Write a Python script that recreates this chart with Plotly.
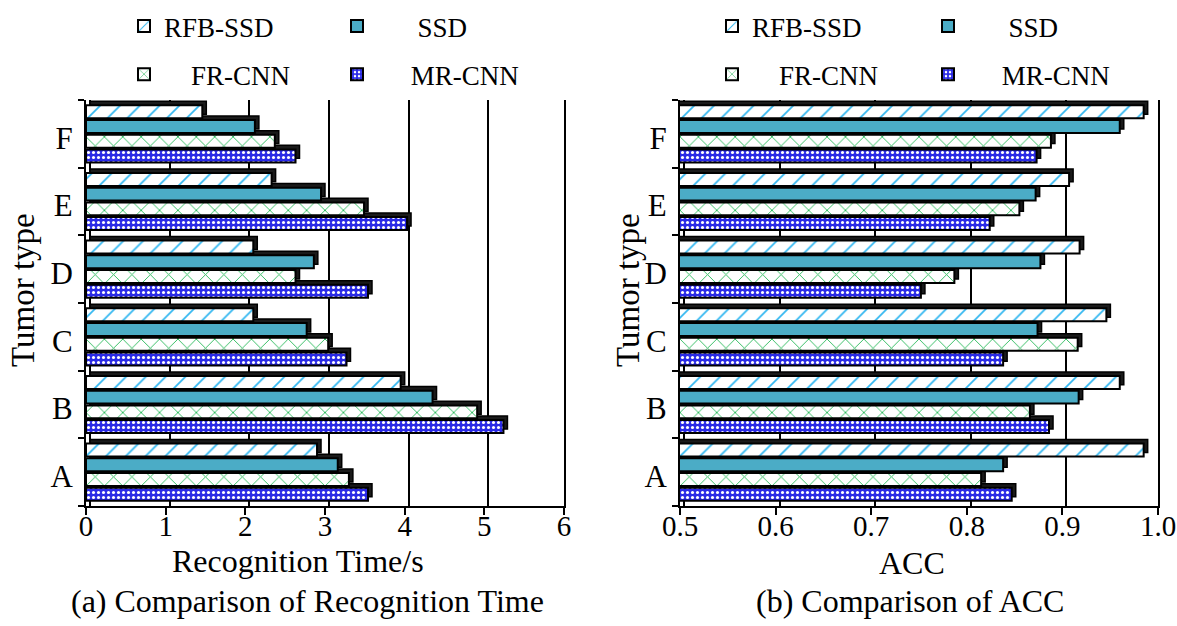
import plotly.graph_objects as go

# ---------------- data ----------------
categories = ["A", "B", "C", "D", "E", "F"]
methods = ["RFB-SSD", "SSD", "FR-CNN", "MR-CNN"]

time_rfb_ssd = [2.90, 3.95, 2.10, 2.10, 2.33, 1.46]
time_ssd     = [3.16, 4.35, 2.77, 2.86, 2.95, 2.12]
time_fr_cnn  = [3.30, 4.91, 3.04, 2.63, 3.49, 2.37]
time_mr_cnn  = [3.54, 5.24, 3.27, 3.54, 4.03, 2.63]

acc_rfb_ssd = [0.985, 0.960, 0.946, 0.918, 0.907, 0.985]
acc_ssd     = [0.838, 0.917, 0.874, 0.877, 0.872, 0.960]
acc_fr_cnn  = [0.815, 0.866, 0.916, 0.787, 0.855, 0.888]
acc_mr_cnn  = [0.847, 0.886, 0.838, 0.752, 0.824, 0.873]

time_ticks = [0, 1, 2, 3, 4, 5, 6]
acc_ticks = [0.5, 0.6, 0.7, 0.8, 0.9, 1.0]
acc_tick_labels = ["0.5", "0.6", "0.7", "0.8", "0.9", "1.0"]

# ---------------- styles ----------------
FONT = "Liberation Serif"
W, H = 1177, 626
NB = "\u00a0"

styles = {
    "RFB-SSD": dict(color="white", pattern=dict(shape="/", fgcolor="#2fb6f0", bgcolor="white",
                                                size=14, solidity=0.12, fillmode="replace")),
    "SSD": dict(color="#4bacc6"),
    "FR-CNN": dict(color="white", pattern=dict(shape="x", fgcolor="#2dbb5e", bgcolor="white",
                                               size=13, solidity=0.14, fillmode="replace")),
    "MR-CNN": dict(color="#2a2ae6", pattern=dict(shape=".", fgcolor="white", bgcolor="#2a2ae6",
                                                 size=5, solidity=0.3, fillmode="replace")),
}
# legend texts (leading non-breaking spaces reproduce the text offsets of the original legend)
legend_label = {"RFB-SSD": "RFB-SSD", "SSD": NB * 6 + "SSD",
                "FR-CNN": NB * 4 + "FR-CNN", "MR-CNN": NB * 5 + "MR-CNN"}
rank = {"RFB-SSD": 1, "FR-CNN": 2, "SSD": 3, "MR-CNN": 4}
col_of = {"RFB-SSD": 0, "FR-CNN": 0, "SSD": 1, "MR-CNN": 1}

time_data = {"RFB-SSD": time_rfb_ssd, "SSD": time_ssd, "FR-CNN": time_fr_cnn, "MR-CNN": time_mr_cnn}
acc_data = {"RFB-SSD": acc_rfb_ssd, "SSD": acc_ssd, "FR-CNN": acc_fr_cnn, "MR-CNN": acc_mr_cnn}

# plotting order bottom -> top within each group
draw_order = ["MR-CNN", "FR-CNN", "SSD", "RFB-SSD"]

fig = go.Figure()

panels = [
    (time_data, ("x", "y"), ("x3", "y3"), ("legend", "legend2")),
    (acc_data, ("x2", "y2"), ("x4", "y4"), ("legend3", "legend4")),
]

for data, (sx, sy), (mx, my), legs in panels:
    # depth (shadow) bars on the back axes
    for m in draw_order:
        fig.add_trace(go.Bar(
            y=categories, x=data[m], orientation="h", xaxis=sx, yaxis=sy,
            marker=dict(color="#1a1a1a", line=dict(color="black", width=1.5)),
            showlegend=False, hoverinfo="skip",
        ))
    # front bars
    for m in draw_order:
        st = styles[m]
        marker = dict(color=st["color"], line=dict(color="black", width=2))
        if "pattern" in st:
            marker["pattern"] = st["pattern"]
        fig.add_trace(go.Bar(
            y=categories, x=data[m], orientation="h", xaxis=mx, yaxis=my,
            name=legend_label[m], marker=marker, legend=legs[col_of[m]], legendrank=rank[m],
            legendgroup=m + legs[0],
        ))

# ---------------- layout ----------------
left_dom = [86 / W, 564 / W]
right_dom = [680 / W, 1158 / W]
ydom = [1 - 506 / H, 1 - 100 / H]

d_time = 0.05     # depth offset in data units (about 4px)
d_acc = 0.0042
d_cat = 0.06

grid = dict(showgrid=True, gridcolor="black", gridwidth=2, zeroline=False,
            showticklabels=False, ticks="", showline=False)
tickfont_x = dict(family=FONT, size=29, color="black")
tickfont_y = dict(family=FONT, size=31, color="black")

main_x = dict(showgrid=False, zeroline=False, showline=True, linecolor="black", linewidth=2,
              ticks="outside", ticklen=7, tickwidth=2, tickcolor="black", tickfont=tickfont_x,
              ticklabelstandoff=-14)
main_y = dict(type="category", categoryorder="array", categoryarray=categories,
              range=[-0.5, 5.5], showgrid=False, zeroline=False, showline=True, mirror=True,
              linecolor="black", linewidth=2, ticks="outside", ticklen=6, tickwidth=2,
              tickcolor="black", tickson="boundaries", tickfont=tickfont_y, ticklabelshift=4,
              ticklabelstandoff=5)

fig.update_layout(
    width=W, height=H,
    margin=dict(l=0, r=0, t=0, b=0, autoexpand=False),
    paper_bgcolor="white", plot_bgcolor="white",
    barmode="group", bargap=0.13, bargroupgap=0.12,
    font=dict(family=FONT, color="black"),
    xaxis=dict(domain=left_dom, range=[0 - d_time, 6 - d_time], tickvals=time_ticks, **grid),
    yaxis=dict(domain=ydom, type="category", categoryorder="array", categoryarray=categories,
               range=[-0.5 - d_cat, 5.5 - d_cat], showgrid=False, zeroline=False,
               showticklabels=False, ticks="", anchor="x"),
    xaxis2=dict(domain=right_dom, range=[0.5 - d_acc, 1.0 - d_acc], tickvals=acc_ticks,
                anchor="y2", **grid),
    yaxis2=dict(domain=ydom, type="category", categoryorder="array", categoryarray=categories,
                range=[-0.5 - d_cat, 5.5 - d_cat], showgrid=False, zeroline=False,
                showticklabels=False, ticks="", anchor="x2"),
    xaxis3=dict(overlaying="x", anchor="y3", range=[0, 6], tickvals=time_ticks, **main_x),
    yaxis3=dict(overlaying="y", anchor="x3", **main_y),
    xaxis4=dict(overlaying="x2", anchor="y4", range=[0.5, 1.0], tickvals=acc_ticks,
                ticktext=acc_tick_labels, **main_x),
    yaxis4=dict(overlaying="y2", anchor="x4", **main_y),
)

leg_common = dict(orientation="v", yanchor="top", xanchor="left", bgcolor="rgba(0,0,0,0)",
                  font=dict(family=FONT, size=27, color="black"), itemwidth=30,
                  traceorder="grouped", tracegroupgap=10)
fig.update_layout(
    legend=dict(x=124 / W, y=1 - 2 / H, **leg_common),
    legend2=dict(x=337 / W, y=1 - 2 / H, **leg_common),
    legend3=dict(x=712 / W, y=1 - 2 / H, **leg_common),
    legend4=dict(x=928 / W, y=1 - 2 / H, **leg_common),
)


def ann(text, x, y, angle=0, size=32):
    fig.add_annotation(text=text, x=x / W, y=1 - y / H, xref="paper", yref="paper",
                       xanchor="center", yanchor="middle", showarrow=False, textangle=angle,
                       font=dict(family=FONT, size=size, color="black"))


ann("Recognition Time/s", 298, 561)
ann("ACC", 912, 563)
ann("(a) Comparison of Recognition Time", 307, 601)
ann("(b) Comparison of ACC", 910, 601)
ann("Tumor type", 23, 290, angle=-90, size=33)
ann("Tumor type", 628, 290, angle=-90, size=33)

fig.write_html("out.html", config={"displayModeBar": False},
               post_script="document.body.style.margin='0';")
